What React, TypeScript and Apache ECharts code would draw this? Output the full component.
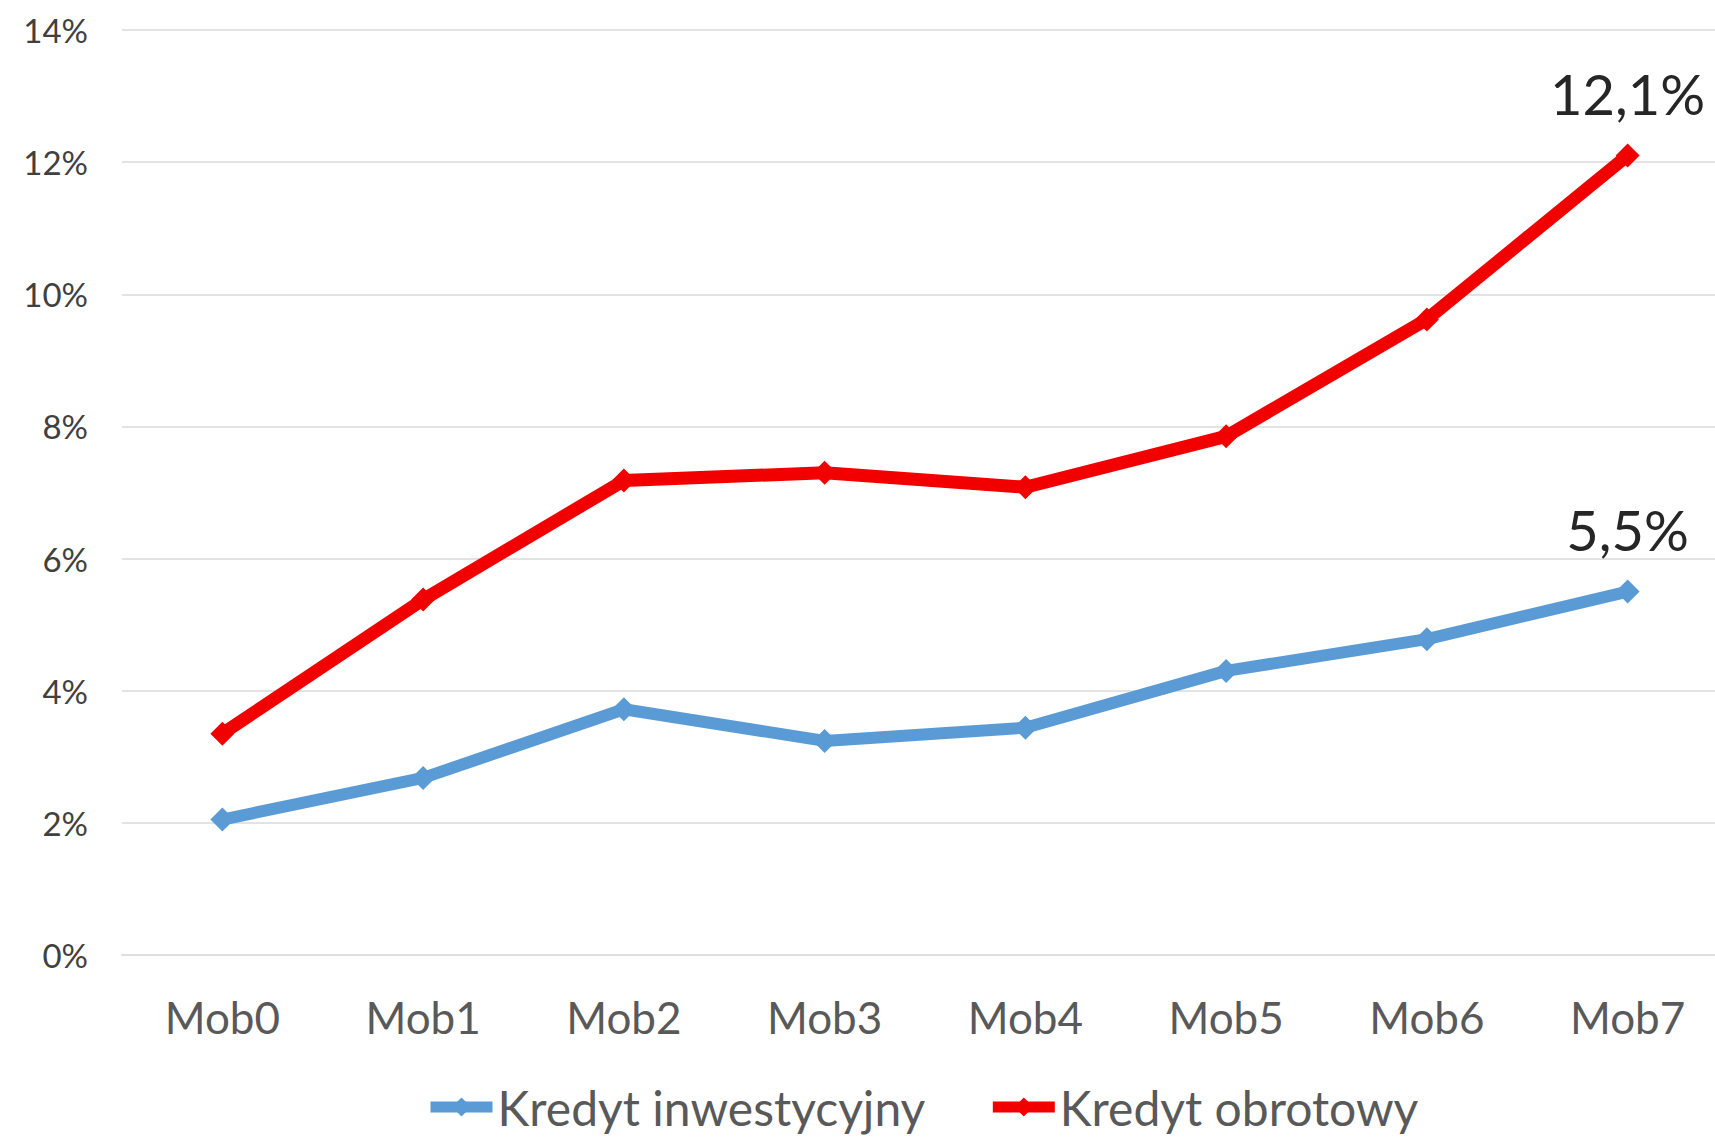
import React, { useEffect, useRef } from "react";
import * as echarts from "echarts";

const categories = ["Mob0", "Mob1", "Mob2", "Mob3", "Mob4", "Mob5", "Mob6", "Mob7"];
const kredytInwestycyjny = [2.05, 2.68, 3.72, 3.24, 3.44, 4.3, 4.78, 5.5];
const kredytObrotowy = [3.35, 5.38, 7.18, 7.3, 7.08, 7.85, 9.62, 12.1];
const seriesNames = ["Kredyt inwestycyjny", "Kredyt obrotowy"];
const yTicks = { min: 0, max: 14, interval: 2 };

const FONT = "Lato";

function fmtLabel(v: number) {
  return v.toFixed(1).replace(".", ",") + "%";
}

export default function App() {
  const ref = useRef<HTMLDivElement>(null);
  useEffect(() => {
    if (!ref.current) return;
    const chart = echarts.init(ref.current, null, { renderer: "svg" });
    const last = categories.length - 1;
    const mkSeries = (name: string, data: number[], color: string, width: number, z: number) => ({
      name,
      type: "line",
      data,
      symbol: "diamond",
      symbolSize: 24,
      lineStyle: { color, width },
      itemStyle: { color },
      z,
      label: {
        show: true,
        position: "top",
        distance: 22,
        fontFamily: FONT,
        fontSize: 56,
        color: "#262626",
        formatter: (p: any) => (p.dataIndex === last ? fmtLabel(p.value) : ""),
      },
    });
    chart.setOption({
      animation: false,
      backgroundColor: "#ffffff",
      grid: { left: 122, top: 30, width: 1606, height: 925, containLabel: false },
      legend: {
        data: seriesNames,
        left: 420,
        top: 1078,
        itemWidth: 62,
        itemHeight: 24,
        itemGap: 62,
        lineStyle: { width: 11 },
        textStyle: { fontFamily: FONT, fontSize: 48, color: "#595959" },
      },
      xAxis: {
        type: "category",
        data: categories,
        boundaryGap: true,
        axisLine: { show: true, lineStyle: { color: "#dedede", width: 2 } },
        axisTick: { show: false },
        axisLabel: { margin: 40, fontFamily: FONT, fontSize: 44, color: "#595959" },
      },
      yAxis: {
        type: "value",
        min: yTicks.min,
        max: yTicks.max,
        interval: yTicks.interval,
        axisLine: { show: false },
        axisTick: { show: false },
        splitLine: { lineStyle: { color: "#e3e3e3", width: 2 } },
        axisLabel: {
          margin: 34,
          fontFamily: FONT,
          fontSize: 33,
          color: "#404040",
          formatter: "{value}%",
        },
      },
      series: [
        mkSeries(seriesNames[0], kredytInwestycyjny, "#5b9bd5", 12, 2),
        mkSeries(seriesNames[1], kredytObrotowy, "#f20000", 13, 3),
      ],
    });
    return () => chart.dispose();
  }, []);
  return (
    <div
      style={{
        position: "absolute",
        left: 0,
        top: 0,
        width: 1715,
        height: 1137,
        overflow: "hidden",
        background: "#fff",
      }}
    >
      <div ref={ref} style={{ width: 1745, height: 1137 }} />
    </div>
  );
}
